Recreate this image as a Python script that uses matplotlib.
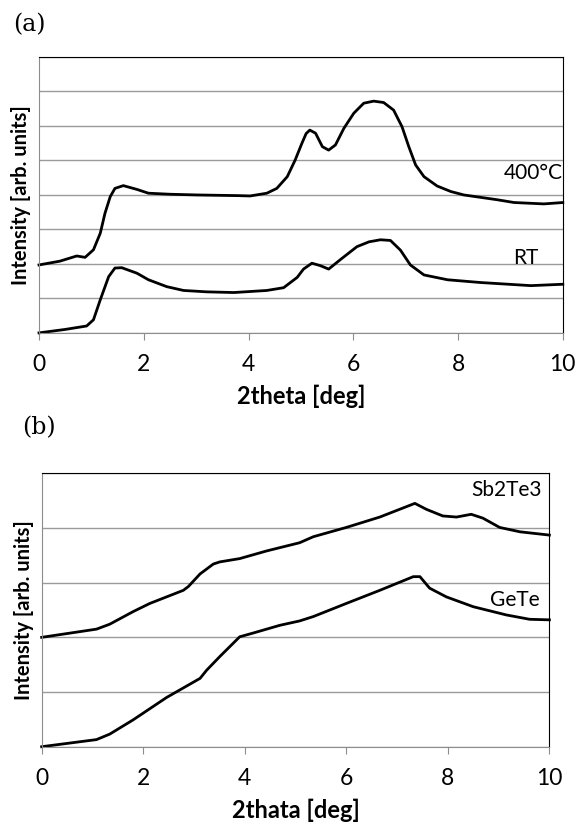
import matplotlib.pyplot as plt

# ---------------- data ----------------
# panel (a): 400C and RT scans (y in grid units, 0..8)
a_hot_x = [0.0, 0.4, 0.72, 0.88, 1.04, 1.17, 1.26, 1.36, 1.45, 1.61, 1.87, 2.09, 2.5, 3.0,
           3.8, 4.03, 4.35, 4.54, 4.74, 4.89, 5.02, 5.1, 5.17, 5.28, 5.41, 5.53, 5.66, 5.82,
           6.01, 6.2, 6.39, 6.58, 6.77, 6.93, 7.06, 7.19, 7.35, 7.6, 7.86, 8.11, 8.75,
           9.07, 9.64, 10.0]
a_hot_y = [1.97, 2.08, 2.23, 2.19, 2.41, 2.89, 3.47, 3.95, 4.19, 4.27, 4.16, 4.05, 4.02, 4.0,
           3.98, 3.97, 4.05, 4.19, 4.53, 5.01, 5.5, 5.78, 5.88, 5.79, 5.4, 5.3, 5.45, 5.93,
           6.37, 6.66, 6.72, 6.68, 6.46, 5.98, 5.4, 4.87, 4.53, 4.26, 4.1, 4.0, 3.86,
           3.78, 3.74, 3.78]
a_rt_x = [0.0, 0.5, 0.91, 1.04, 1.17, 1.33, 1.45, 1.58, 1.87, 2.09, 2.44, 2.76, 3.2, 3.72,
          4.35, 4.67, 4.93, 5.05, 5.21, 5.37, 5.53, 5.75, 6.07, 6.3, 6.52, 6.71, 6.9, 7.09,
          7.35, 7.8, 8.43, 9.39, 10.0]
a_rt_y = [0.0, 0.1, 0.2, 0.38, 0.96, 1.63, 1.88, 1.89, 1.73, 1.54, 1.34, 1.23, 1.19, 1.17,
          1.23, 1.31, 1.61, 1.85, 2.02, 1.95, 1.85, 2.12, 2.5, 2.64, 2.7, 2.68, 2.4, 1.97,
          1.68, 1.54, 1.46, 1.37, 1.41]

# panel (b): Sb2Te3 and GeTe scans (y in grid units, 0..5)
b_sbte_x = [0.0, 1.08, 1.34, 1.8, 2.13, 2.79, 2.89, 3.12, 3.38, 3.51, 3.9, 4.43, 5.08,
            5.35, 6.0, 6.66, 7.35, 7.58, 7.9, 8.17, 8.46, 8.69, 9.02, 9.42, 10.0]
b_sbte_y = [2.0, 2.15, 2.24, 2.47, 2.62, 2.86, 2.93, 3.16, 3.34, 3.38, 3.44, 3.58, 3.73,
            3.84, 4.01, 4.2, 4.45, 4.34, 4.22, 4.2, 4.25, 4.18, 4.01, 3.93, 3.87]
b_gete_x = [0.0, 1.08, 1.34, 1.8, 2.46, 3.12, 3.25, 3.51, 3.77, 3.9, 4.17, 4.69, 5.08,
            5.35, 6.0, 6.66, 7.32, 7.45, 7.64, 7.97, 8.5, 9.15, 9.61, 10.0]
b_gete_y = [0.0, 0.13, 0.23, 0.49, 0.9, 1.25, 1.4, 1.65, 1.89, 2.01, 2.08, 2.22, 2.3,
            2.38, 2.62, 2.86, 3.11, 3.11, 2.9, 2.74, 2.56, 2.41, 2.33, 2.32]

x_ticks = [0, 2, 4, 6, 8, 10]

plt.rcParams['font.family'] = ['Lato', 'DejaVu Sans']

fig = plt.figure(figsize=(5.82, 8.26), dpi=100)
ax_a = fig.add_axes([0.067, 0.597, 0.900, 0.334])
ax_b = fig.add_axes([0.0716, 0.096, 0.8724, 0.331])


def style_axis(ax, ymax, xlabel):
    ax.set_xlim(0, 10)
    ax.set_ylim(0, ymax)
    ax.set_xticks(x_ticks)
    ax.set_yticks(range(ymax + 1))
    ax.set_yticklabels([])
    ax.grid(axis='y', color='#9a9a9a', linewidth=1.0)
    ax.set_axisbelow(True)
    for side in ['left', 'bottom']:
        ax.spines[side].set_color('#8c8c8c')
    for side in ['top', 'right']:
        ax.spines[side].set_color('black')
    ax.tick_params(axis='x', direction='out', length=5, color='#8c8c8c',
                   labelsize=16.5, pad=10)
    ax.tick_params(axis='y', length=0)
    ax.set_xlabel(xlabel, fontsize=17, fontweight='bold', labelpad=7)
    ax.set_ylabel('Intensity [arb. units]', fontsize=14.5, fontweight='bold', labelpad=2)


# ----- panel (a) -----
ax_a.plot(a_hot_x, a_hot_y, color='black', linewidth=2.0, clip_on=False)
ax_a.plot(a_rt_x, a_rt_y, color='black', linewidth=2.0, clip_on=False)
style_axis(ax_a, 8, '2theta [deg]')
ax_a.text(10.0, 4.64, '400°C', fontsize=15, ha='right', va='center')
ax_a.text(9.54, 2.17, 'RT', fontsize=15, ha='right', va='center')

# ----- panel (b) -----
ax_b.plot(b_sbte_x, b_sbte_y, color='black', linewidth=2.0, clip_on=False)
ax_b.plot(b_gete_x, b_gete_y, color='black', linewidth=2.0, clip_on=False)
style_axis(ax_b, 5, '2thata [deg]')
ax_b.text(9.85, 4.69, 'Sb2Te3', fontsize=15, ha='right', va='center')
ax_b.text(9.81, 2.68, 'GeTe', fontsize=15, ha='right', va='center')

fig.text(0.022, 0.970, '(a)', fontsize=17, family='DejaVu Serif', va='center')
fig.text(0.038, 0.482, '(b)', fontsize=17, family='DejaVu Serif', va='center')

fig.savefig('out.png', dpi=100)
